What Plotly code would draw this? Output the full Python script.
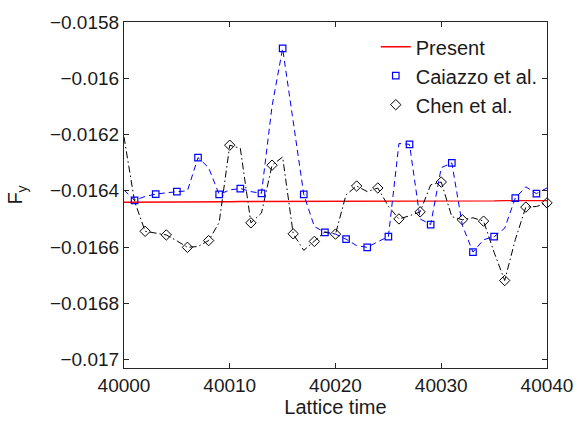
import plotly.graph_objects as go

# Lattice time samples (one value per time step)
lattice_time = list(range(40000, 40041))

# Lift coefficient F_y, present method
present_fy = [
    -0.016441, -0.016441, -0.016440, -0.016440, -0.016440, -0.016440, -0.016440,
    -0.016439, -0.016439, -0.016439, -0.016439, -0.016438, -0.016438, -0.016438,
    -0.016438, -0.016438, -0.016437, -0.016437, -0.016437, -0.016437, -0.016437,
    -0.016436, -0.016436, -0.016436, -0.016437, -0.016437, -0.016437, -0.016437,
    -0.016437, -0.016437, -0.016437, -0.016437, -0.016437, -0.016436, -0.016436,
    -0.016436, -0.016435, -0.016435, -0.016435, -0.016435, -0.016435,
]

# Caiazzo et al.
caiazzo_fy = [
    -0.016397, -0.016434, -0.016420, -0.016412, -0.016407, -0.016403, -0.016400,
    -0.016282, -0.016318, -0.016413, -0.016397, -0.016392, -0.016403, -0.016409,
    -0.016099, -0.015894, -0.016157, -0.016413, -0.016527, -0.016548, -0.016554,
    -0.016572, -0.016595, -0.016601, -0.016581, -0.016563, -0.016232, -0.016235,
    -0.016500, -0.016520, -0.016318, -0.016301, -0.016523, -0.016618, -0.016574,
    -0.016563, -0.016533, -0.016426, -0.016386, -0.016410, -0.016390,
]

# Chen et al.
chen_fy = [
    -0.016209, -0.016438, -0.016544, -0.016551, -0.016557, -0.016578, -0.016601,
    -0.016598, -0.016577, -0.016513, -0.016238, -0.016249, -0.016514, -0.016479,
    -0.016309, -0.016280, -0.016553, -0.016612, -0.016580, -0.016546, -0.016554,
    -0.016414, -0.016383, -0.016403, -0.016390, -0.016455, -0.016500, -0.016489,
    -0.016475, -0.016379, -0.016369, -0.016492, -0.016503, -0.016496, -0.016508,
    -0.016619, -0.016719, -0.016574, -0.016458, -0.016456, -0.016443,
]

x_ticks = [40000, 40010, 40020, 40030, 40040]
y_ticks = [-0.0158, -0.016, -0.0162, -0.0164, -0.0166, -0.0168, -0.017]
y_tick_text = ["\u22120.0158", "\u22120.016", "\u22120.0162", "\u22120.0164",
               "\u22120.0166", "\u22120.0168", "\u22120.017"]

FONT = "Liberation Sans, Arial, Helvetica, sans-serif"
AXIS_COLOR = "#262626"

fig = go.Figure()

# Continuous curves
fig.add_trace(go.Scatter(
    x=lattice_time, y=present_fy, mode="lines", name="Present",
    line=dict(color="#ff0000", width=1.4),
))
fig.add_trace(go.Scatter(
    x=lattice_time, y=caiazzo_fy, mode="lines", showlegend=False,
    line=dict(color="#0000ff", width=1, dash="6px,4px"),
))
fig.add_trace(go.Scatter(
    x=lattice_time, y=chen_fy, mode="lines", showlegend=False,
    line=dict(color="#000000", width=1, dash="7px,3px,1.5px,3px"),
))

# Markers on every second sample
fig.add_trace(go.Scatter(
    x=lattice_time[1::2], y=caiazzo_fy[1::2], mode="markers", name="Caiazzo et al.",
    marker=dict(symbol="square-open", size=6.5, color="#0000ff", line=dict(width=1.2)),
    cliponaxis=False,
))
fig.add_trace(go.Scatter(
    x=lattice_time[2::2], y=chen_fy[2::2], mode="markers", name="Chen et al.",
    marker=dict(symbol="diamond-open", size=8, color="#000000", line=dict(width=1)),
    cliponaxis=False,
))

axis_common = dict(
    showline=True, linecolor=AXIS_COLOR, linewidth=1.2, mirror="ticks",
    ticks="inside", ticklen=5, tickcolor=AXIS_COLOR, tickwidth=1,
    showgrid=False, zeroline=False,
    tickfont=dict(family=FONT, size=19, color="#1a1a1a"),
)

fig.update_xaxes(
    range=[40000, 40040], tickvals=x_ticks, tickformat="d",
    title=dict(text="Lattice time", font=dict(family=FONT, size=20, color="#1a1a1a"),
               standoff=3),
    **axis_common,
)
fig.update_yaxes(
    range=[-0.01703, -0.0158], tickvals=y_ticks, ticktext=y_tick_text,
    title=dict(text="F<sub>y</sub>", font=dict(family=FONT, size=20, color="#1a1a1a"),
               standoff=21),
    **axis_common,
)

fig.update_layout(
    width=585, height=425,
    margin=dict(l=124, r=32, t=13, b=51),
    paper_bgcolor="white", plot_bgcolor="white",
    showlegend=True,
    legend=dict(
        x=0.99, y=0.985, xanchor="right", yanchor="top",
        bgcolor="rgba(255,255,255,0)", borderwidth=0,
        font=dict(family=FONT, size=20, color="#1a1a1a"),
        tracegroupgap=0, itemwidth=30,
    ),
)

fig.write_html("out.html")
